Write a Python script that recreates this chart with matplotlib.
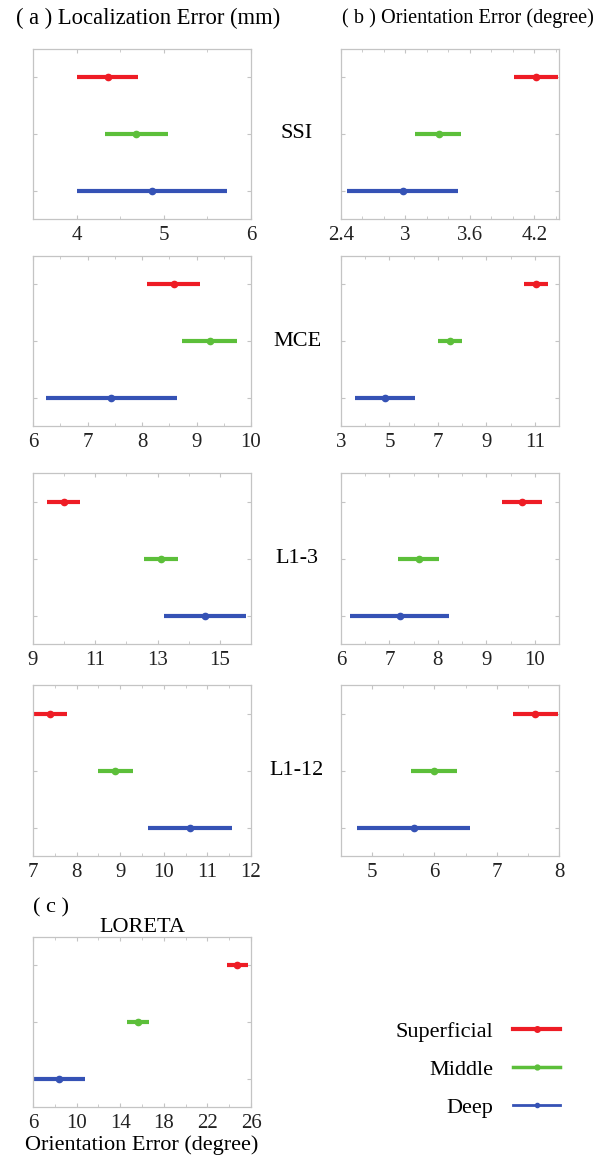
import matplotlib
matplotlib.use("Agg")
import matplotlib.pyplot as plt
from matplotlib.lines import Line2D
from matplotlib.ticker import FixedLocator

plt.rcParams["font.family"] = ["Liberation Serif", "DejaVu Serif"]

levels = ["Superficial", "Middle", "Deep"]
colors = ["#ee1c25", "#5cbf3a", "#3552b5"]
methods = ["SSI", "MCE", "L1-3", "L1-12"]

# (low, centre, high) for Superficial, Middle, Deep
loc_ssi = [(4.01, 4.36, 4.70), (4.33, 4.68, 5.05), (4.00, 4.87, 5.73)]
ori_ssi = [(4.01, 4.22, 4.42), (3.09, 3.31, 3.52), (2.46, 2.98, 3.49)]
loc_mce = [(8.10, 8.59, 9.07), (8.74, 9.24, 9.74), (6.23, 7.44, 8.65)]
ori_mce = [(10.55, 11.05, 11.54), (7.00, 7.51, 8.00), (3.59, 4.82, 6.05)]
loc_l13 = [(9.46, 10.00, 10.50), (12.58, 13.11, 13.65), (13.21, 14.53, 15.84)]
ori_l13 = [(9.32, 9.73, 10.14), (7.18, 7.61, 8.03), (6.18, 7.21, 8.23)]
loc_l112 = [(7.00, 7.40, 7.79), (8.49, 8.89, 9.30), (9.63, 10.60, 11.56)]
ori_l112 = [(7.26, 7.62, 7.98), (5.63, 6.00, 6.37), (4.76, 5.67, 6.57)]
ori_loreta = [(23.80, 24.75, 25.72), (14.62, 15.63, 16.67), (6.00, 8.42, 10.80)]

# x tick labels per panel
ticks_loc_ssi = [4, 5, 6]
ticks_ori_ssi = ["2.4", "3", "3.6", "4.2"]
ticks_loc_mce = [6, 7, 8, 9, 10]
ticks_ori_mce = [3, 5, 7, 9, 11]
ticks_loc_l13 = [9, 11, 13, 15]
ticks_ori_l13 = [6, 7, 8, 9, 10]
ticks_loc_l112 = [7, 8, 9, 10, 11, 12]
ticks_ori_l112 = [5, 6, 7, 8]
ticks_loreta = [6, 10, 14, 18, 22, 26]

W, H = 605, 1156
fig = plt.figure(figsize=(W / 100, H / 100), dpi=100)


def add_ax(left, top, width, height):
    return fig.add_axes([left / W, 1 - (top + height) / H, width / W, height / H])


def draw(ax, data, xlim, ticks, minor):
    for i, (lo, c, hi) in enumerate(data):
        y = 3 - i
        ax.errorbar([c], [y], xerr=[[c - lo], [hi - c]], fmt="o", color=colors[i],
                    ecolor=colors[i], elinewidth=3, capsize=0, markersize=4.5)
    ax.set_xlim(*xlim)
    ax.set_ylim(0.5, 3.5)
    ax.set_xticks([float(t) for t in ticks])
    ax.set_xticklabels([str(t) for t in ticks])
    n0 = int(xlim[0] / minor) - 1
    n1 = int(xlim[1] / minor) + 2
    ax.xaxis.set_minor_locator(FixedLocator([k * minor for k in range(n0, n1)]))
    ax.set_yticks([1, 2, 3])
    ax.set_yticklabels([])
    ax.tick_params(which="both", direction="in", top=True, right=True,
                   color="#c4c4c4", labelsize=15, labelcolor="#222222", pad=5)
    ax.tick_params(which="major", length=3)
    ax.tick_params(which="minor", length=2)
    for s in ax.spines.values():
        s.set_color("#c4c4c4")
        s.set_linewidth(0.9)


rows = [(49, 170), (256, 170), (473, 171), (685, 171)]
col_a, col_b, width = 33, 341, 218

specs_a = [(loc_ssi, (3.5, 6), ticks_loc_ssi, 0.5), (loc_mce, (6, 10), ticks_loc_mce, 0.5),
           (loc_l13, (9, 16), ticks_loc_l13, 1), (loc_l112, (7, 12), ticks_loc_l112, 0.5)]
specs_b = [(ori_ssi, (2.4, 4.43), ticks_ori_ssi, 0.2), (ori_mce, (3, 12), ticks_ori_mce, 1),
           (ori_l13, (6, 10.5), ticks_ori_l13, 0.5), (ori_l112, (4.5, 8), ticks_ori_l112, 0.5)]

for (top, h), sa, sb, name in zip(rows, specs_a, specs_b, methods):
    axa = add_ax(col_a, top, width, h)
    draw(axa, *sa)
    axb = add_ax(col_b, top, width, h)
    draw(axb, *sb)
    fig.text(297 / W, 1 - (top + h / 2) / H, name, ha="center", va="center", fontsize=16)

fig.text(148 / W, 1 - 18 / H, "( a ) Localization Error (mm)", ha="center", va="center", fontsize=16.3)
fig.text(468 / W, 1 - 18 / H, "( b ) Orientation Error (degree)", ha="center", va="center", fontsize=14.6)

axl = add_ax(col_a, 937, width, 170)
draw(axl, ori_loreta, (6, 26), ticks_loreta, 2)
axl.set_title("LORETA", fontsize=16, pad=3)
axl.set_xlabel("Orientation Error (degree)", fontsize=16, labelpad=2)
fig.text(33 / W, 1 - 908 / H, "( c )", ha="left", va="center", fontsize=16)

handles = [Line2D([], [], color=colors[0], lw=3, marker="o", markersize=4),
           Line2D([], [], color=colors[1], lw=2.5, marker="o", markersize=3.5),
           Line2D([], [], color=colors[2], lw=2, marker="o", markersize=3)]
fig.legend(handles, levels, markerfirst=False, frameon=False, fontsize=16,
           handlelength=2.1, handletextpad=0.9, labelspacing=0.8, loc="upper right",
           bbox_to_anchor=(580 / W, 1 - 1001 / H))

fig.savefig("out.png", dpi=100)
